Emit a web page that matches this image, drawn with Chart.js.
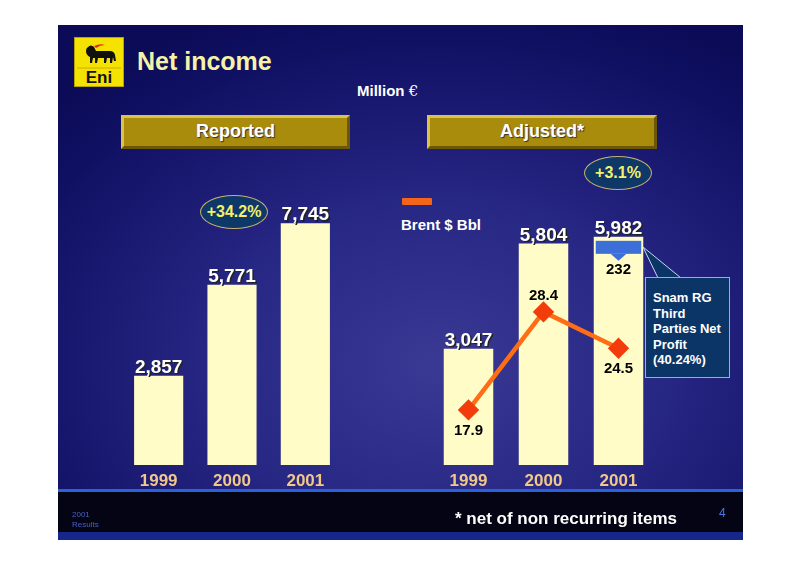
<!DOCTYPE html>
<html lang="en">
<head>
  <meta charset="UTF-8">
  <title>Net income</title>
  <script src="https://cdn.jsdelivr.net/npm/chart.js@4.4.1/dist/chart.umd.min.js"></script>
  <style>
    body {
      margin: 0;
      width: 800px;
      height: 565px;
      background: #fff;
      position: relative;
      overflow: hidden;
      font-family: 'Liberation Sans', Arial, sans-serif;
    }

    .slide {
      position: absolute;
      left: 58px;
      top: 25px;
      width: 685px;
      height: 465px;
      background: radial-gradient(ellipse 520px 380px at 380px 340px, #3a3a95 0%, #262683 45%, #131368 80%, #0b0b58 100%);
    }

    .footer {
      position: absolute;
      left: 58px;
      top: 489px;
      width: 685px;
      height: 51px;
      background: #040414;
      border-top: 3px solid #2a62d8;
      box-sizing: border-box;
    }

    .footer .strip {
      position: absolute;
      left: 0;
      bottom: 0;
      width: 100%;
      height: 8px;
      background: #16268a;
    }

    .abs {
      position: absolute;
      white-space: nowrap;
    }

    .gold {
      position: absolute;
      height: 34px;
      background: #a98c0c;
      border-style: solid;
      border-width: 3px;
      border-color: #d9c24e #6b5706 #6b5706 #d9c24e;
      box-sizing: border-box;
      color: #fff;
      font-weight: bold;
      font-size: 18px;
      text-align: center;
      line-height: 27px;
      text-shadow: 1px 1px 1px #333;
    }

    .oval {
      position: absolute;
      width: 68px;
      height: 34px;
      border-radius: 50%;
      background: #0d3868;
      border: 1px solid #c8b070;
      box-sizing: border-box;
      color: #f4f06a;
      font-weight: bold;
      font-size: 16px;
      text-align: center;
      line-height: 32px;
    }

    .callout {
      position: absolute;
      left: 645px;
      top: 277px;
      width: 85px;
      height: 101px;
      background: #0b3566;
      border: 1px solid #8fb0d8;
      box-sizing: border-box;
      color: #fff;
      font-weight: bold;
      font-size: 13px;
      line-height: 15.5px;
      padding: 12px 0 0 7px;
    }

    canvas {
      position: absolute;
    }
  </style>
</head>
<body>
  <div class="slide"></div>
  <div class="footer"><div class="strip"></div></div>

  <!-- logo -->
  <svg class="abs" style="left:74px;top:37px" width="50" height="50" viewBox="0 0 50 50">
    <rect x="0.5" y="0.5" width="49" height="49" fill="#f5e200" stroke="#b8a400"/>
    <path d="M14 10 q3 -3 6 0 l2 4 h14 q4 0 5 4 l1 6 h-2 l-1 -4 l-1 6 h-2 l0 -5 h-3 l-1 5 h-2 l0 -5 h-6 l-1 5 h-2 l0 -5 h-2 l-1 5 h-2 l0 -6 q-4 -2 -4 -6 q0 -3 2 -4 z" fill="#111"/>
    <path d="M20 9 q6 -3 11 -1 q-5 0 -9 3 z" fill="#e03010"/>
    <line x1="3" y1="31" x2="47" y2="31" stroke="#c8b000" stroke-width="1"/>
    <text x="25" y="46" text-anchor="middle" font-family="Liberation Sans, Arial" font-weight="bold" font-size="17" fill="#111">Eni</text>
  </svg>

  <div class="abs" style="left:137px;top:47px;font-size:25px;font-weight:bold;color:#f6f3a6">Net income</div>
  <div class="abs" style="left:357px;top:82px;font-size:15px;font-weight:bold;color:#fff">Million <span style="font-family:'DejaVu Serif',serif;font-weight:normal">€</span></div>

  <div class="gold" style="left:121px;top:115px;width:229px">Reported</div>
  <div class="gold" style="left:427px;top:115px;width:230px">Adjusted*</div>

  <div class="oval" style="left:200px;top:195px">+34.2%</div>
  <div class="oval" style="left:584px;top:156px">+3.1%</div>

  <div class="abs" style="left:402px;top:198px;width:30px;height:7px;background:#f4651a;border-radius:1px"></div>
  <div class="abs" style="left:401px;top:216px;font-size:15px;font-weight:bold;color:#fff">Brent $ Bbl</div>

  <canvas id="leftChart" width="220" height="345" style="left:122px;top:150px"></canvas>
  <canvas id="rightChart" width="225" height="345" style="left:431px;top:150px"></canvas>

  <!-- callout -->
  <svg class="abs" style="left:0;top:0" width="800" height="565">
    <polygon points="643,247 658,278 681,278" fill="#0b3566" stroke="#c8d8f0" stroke-width="1"/>
  </svg>
  <div class="callout">Snam RG<br>Third<br>Parties Net<br>Profit<br>(40.24%)</div>

  <div class="abs" style="left:72px;top:510px;font-size:8px;line-height:10px;color:#4a60c8">2001<br>Results</div>
  <div class="abs" style="left:455px;top:509px;font-size:17px;font-weight:bold;color:#fff">* net of non recurring items</div>
  <div class="abs" style="left:719px;top:506px;font-size:12px;color:#4a78e0">4</div>

  <script>
    // data
    var years = ["1999", "2000", "2001"];
    var reported = [2857, 5771, 7745];
    var adjusted = [3047, 5804, 5982];
    var brent = [17.9, 28.4, 24.5];
    var brentLabelSide = ["below", "above", "below"];
    var snamRG = 232;

    var FONT = "'Liberation Sans', Arial, sans-serif";

    function fmt(v) {
      return v.toLocaleString("en-US");
    }

    // value labels above the bars, brent labels near the points
    var labelPlugin = {
      id: "labels",
      afterDatasetsDraw: function (chart) {
        var ctx = chart.ctx;
        chart.data.datasets.forEach(function (ds, i) {
          var meta = chart.getDatasetMeta(i);
          meta.data.forEach(function (el, j) {
            ctx.save();
            ctx.textAlign = "center";
            if (ds.type === "line") {
              ctx.font = "bold 15px " + FONT;
              ctx.fillStyle = "#000";
              ctx.textBaseline = "middle";
              var dy = brentLabelSide[j] === "above" ? -16 : 21;
              ctx.fillText(ds.data[j].toFixed(1), el.x, el.y + dy);
            } else {
              ctx.font = "bold 19px " + FONT;
              ctx.textBaseline = "alphabetic";
              ctx.fillStyle = "#222";
              ctx.fillText(fmt(ds.data[j]), el.x + 1.5, el.y - 1.5);
              ctx.fillStyle = "#fff";
              ctx.fillText(fmt(ds.data[j]), el.x, el.y - 3);
            }
            ctx.restore();
          });
        });
      }
    };

    // blue arrow + 232 on the 2001 adjusted bar
    var snamPlugin = {
      id: "snam",
      afterDatasetsDraw: function (chart) {
        if (chart.canvas.id !== "rightChart") return;
        var bar = chart.getDatasetMeta(0).data[2];
        var ctx = chart.ctx;
        var x0 = bar.x - bar.width / 2 + 2, x1 = bar.x + bar.width / 2 - 2;
        var y0 = bar.y + 4;
        ctx.save();
        ctx.fillStyle = "#3d6fd8";
        ctx.fillRect(x0, y0, x1 - x0, 13);
        ctx.beginPath();
        ctx.moveTo(bar.x - 8, y0 + 13);
        ctx.lineTo(bar.x + 8, y0 + 13);
        ctx.lineTo(bar.x, y0 + 20);
        ctx.closePath();
        ctx.fill();
        ctx.font = "bold 15px " + FONT;
        ctx.fillStyle = "#000";
        ctx.textAlign = "center";
        ctx.textBaseline = "middle";
        ctx.fillText(String(snamRG), bar.x, y0 + 29);
        ctx.restore();
      }
    };

    function xAxis() {
      return {
        grid: { display: false, drawTicks: false },
        border: { display: false },
        ticks: {
          color: "#f2c88a",
          font: { family: FONT, size: 17, weight: "bold" },
          padding: 6
        },
        afterFit: function (axis) { axis.height = 30; }
      };
    }

    new Chart(document.getElementById("leftChart"), {
      type: "bar",
      data: {
        labels: years,
        datasets: [{
          data: reported,
          backgroundColor: "#fffcc8",
          barPercentage: 0.67,
          categoryPercentage: 1
        }]
      },
      options: {
        responsive: false,
        animation: false,
        layout: { autoPadding: false, padding: { top: 34, left: 0, right: 0, bottom: 0 } },
        plugins: { legend: { display: false }, tooltip: { enabled: false } },
        scales: {
          x: xAxis(),
          y: { display: false, min: 0, max: 9000 }
        }
      },
      plugins: [labelPlugin]
    });

    new Chart(document.getElementById("rightChart"), {
      type: "bar",
      data: {
        labels: years,
        datasets: [{
          data: adjusted,
          backgroundColor: "#fffcc8",
          barPercentage: 0.66,
          categoryPercentage: 1,
          yAxisID: "y",
          order: 2
        }, {
          type: "line",
          data: brent,
          yAxisID: "y2",
          borderColor: "#ff6e14",
          borderWidth: 4.5,
          pointStyle: "rectRot",
          pointRadius: 7.5,
          pointBackgroundColor: "#f23c0c",
          pointBorderColor: "#f23c0c",
          order: 1
        }]
      },
      options: {
        responsive: false,
        animation: false,
        layout: { autoPadding: false, padding: { top: 48, left: 0, right: 0, bottom: 0 } },
        plugins: { legend: { display: false }, tooltip: { enabled: false } },
        scales: {
          x: xAxis(),
          y: { display: false, min: 0, max: 7000 },
          y2: { display: false, min: 12, max: 40.6 }
        }
      },
      plugins: [labelPlugin, snamPlugin]
    });
  </script>
</body>
</html>
